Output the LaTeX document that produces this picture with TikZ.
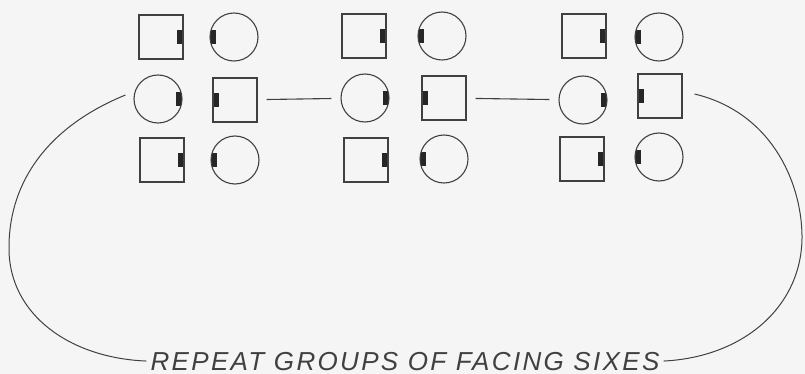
\documentclass[tikz,border=0pt]{standalone}
\usepackage{fontspec}
\setmainfont{Liberation Sans}
\usetikzlibrary{positioning}

\begin{document}
\begin{tikzpicture}[
    x=1pt, y=-1pt,
    ink/.style={draw=black!75, line width=1.1pt},
    sq/.style={ink, rectangle, minimum width=44pt, minimum height=44pt, inner sep=0pt},
    ci/.style={ink, circle, minimum size=48pt, inner sep=0pt},
    tabR/.style={path picture={\fill[black!85] ([xshift=-6pt,yshift=-7pt]path picture bounding box.east) rectangle ([yshift=7pt]path picture bounding box.east);}},
    tabL/.style={path picture={\fill[black!85] ([yshift=-7pt]path picture bounding box.west) rectangle ([xshift=6pt,yshift=7pt]path picture bounding box.west);}},
    link/.style={ink, shorten <=9pt, shorten >=9pt},
    loopline/.style={draw=black!75, line width=1pt}
]
\fill[black!4] (0,0) rectangle (805,374);
\useasboundingbox (0,0) rectangle (805,374);

% Group 1
\node[sq, tabR] (s11) at (161,37) {};
\node[ci, tabL] (c11) at (234,37) {};
\node[ci, tabR] (c12) at (158,99) {};
\node[sq, tabL] (s12) at (235,100) {};
\node[sq, tabR] (s13) at (162,160) {};
\node[ci, tabL] (c13) at (235,160) {};

% Group 2
\node[sq, tabR] (s21) at (364,36) {};
\node[ci, tabL] (c21) at (442,36) {};
\node[ci, tabR] (c22) at (365,98) {};
\node[sq, tabL] (s22) at (444,98) {};
\node[sq, tabR] (s23) at (366,160) {};
\node[ci, tabL] (c23) at (444,159) {};

% Group 3
\node[sq, tabR] (s31) at (584,36) {};
\node[ci, tabL] (c31) at (659,37) {};
\node[ci, tabR] (c32) at (583,100) {};
\node[sq, tabL] (s32) at (660,96) {};
\node[sq, tabR] (s33) at (582,159) {};
\node[ci, tabL] (c33) at (659,157) {};

% Links between groups
\draw[link] (s12) -- (c22);
\draw[link] (s22) -- (c32);

% Caption and return loop
\node[font=\itshape\fontsize{26}{26}\selectfont\addfontfeatures{LetterSpace=9}, text=black!75, inner sep=4pt, anchor=base] (note) at (405,370) {REPEAT GROUPS OF FACING SIXES};
\draw[loopline] ([xshift=-8pt,yshift=4pt]c12.west) .. controls (40,130) and (8,190) .. (9,250)
    .. controls (10,315) and (70,358) .. (note.west);
\draw[loopline] ([xshift=12pt,yshift=2pt]s32.east) .. controls (770,112) and (801,180) .. (802,235)
    .. controls (803,305) and (745,357) .. (note.east);
\end{tikzpicture}
\end{document}
